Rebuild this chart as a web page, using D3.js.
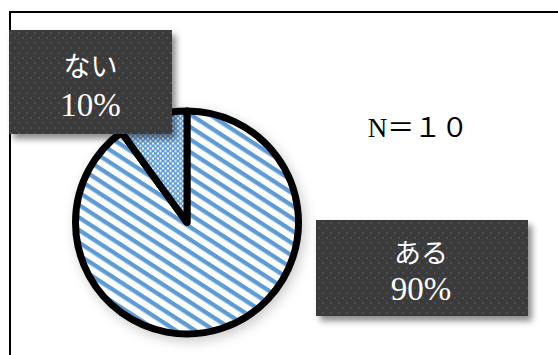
<!DOCTYPE html>
<html><head><meta charset="utf-8">
<script src="https://cdn.jsdelivr.net/npm/d3@7"></script>
<style>html,body{margin:0;padding:0;background:#fff;overflow:hidden}</style>
</head><body>
<svg id="chart" width="558" height="355"></svg>
<script>
const categories = ["ある", "ない"];
const values = [90, 10];
const percentLabels = ["90%", "10%"];
const nLabel = "N＝１０";

const svg = d3.select("#chart");
const defs = svg.append("defs");

// stripes pattern
const stripe = defs.append("pattern").attr("id", "stripes")
  .attr("patternUnits", "userSpaceOnUse").attr("width", 20).attr("height", 10.5)
  .attr("patternTransform", "rotate(33)");
stripe.append("rect").attr("width", 20).attr("height", 10.5).attr("fill", "#fff");
stripe.append("rect").attr("y", 0).attr("width", 20).attr("height", 4.3).attr("fill", "#5b9bd5");

// small check pattern
const chk = defs.append("pattern").attr("id", "checks")
  .attr("patternUnits", "userSpaceOnUse").attr("width", 5).attr("height", 5);
chk.append("rect").attr("width", 5).attr("height", 5).attr("fill", "#5b9bd5");
chk.append("rect").attr("x", 0).attr("y", 0).attr("width", 2).attr("height", 2).attr("fill", "#fff");
chk.append("rect").attr("x", 2.5).attr("y", 2.5).attr("width", 2).attr("height", 2).attr("fill", "#fff");

// dark dotted pattern
const dots = defs.append("pattern").attr("id", "dots")
  .attr("patternUnits", "userSpaceOnUse").attr("width", 8).attr("height", 10);
dots.append("rect").attr("width", 8).attr("height", 10).attr("fill", "#3a3a3a");
dots.append("rect").attr("x", 2).attr("y", 2).attr("width", 2).attr("height", 2).attr("fill", "#4d4d4d");
dots.append("rect").attr("x", 6).attr("y", 7).attr("width", 2).attr("height", 2).attr("fill", "#4d4d4d");

const sh = defs.append("filter").attr("id", "boxShadow")
  .attr("x", "-20%").attr("y", "-20%").attr("width", "150%").attr("height", "150%");
sh.append("feDropShadow").attr("dx", 4).attr("dy", 5).attr("stdDeviation", 3)
  .attr("flood-color", "#000").attr("flood-opacity", 0.45);

const psh = defs.append("filter").attr("id", "pieShadow")
  .attr("x", "-20%").attr("y", "-20%").attr("width", "140%").attr("height", "140%");
psh.append("feDropShadow").attr("dx", 3).attr("dy", 4).attr("stdDeviation", 6)
  .attr("flood-color", "#000").attr("flood-opacity", 0.2);

// frame
svg.append("rect").attr("x", 10).attr("y", 12).attr("width", 700).attr("height", 500)
  .attr("fill", "#fff").attr("stroke", "#000").attr("stroke-width", 2);

// pie
const cx = 187, cy = 222.5, r = 111.5;
const pie = d3.pie().sort(null).value(d => d);
const arcs = pie(values);
const arc = d3.arc().innerRadius(0).outerRadius(r);
const fills = ["url(#stripes)", "url(#checks)"];
const g = svg.append("g").attr("transform", `translate(${cx},${cy})`).attr("filter", "url(#pieShadow)");
g.selectAll("path").data(arcs).join("path")
  .attr("d", arc)
  .attr("fill", (d, i) => fills[i])
  .attr("stroke", "#000").attr("stroke-width", 7).attr("stroke-linejoin", "round");

// label boxes
const boxes = [
  {x: 316, y: 220, w: 212, h: 96},
  {x: 9, y: 30, w: 163, h: 104}
];
const lg = svg.append("g");
arcs.forEach((a, i) => {
  const b = boxes[i];
  const bg = lg.append("g");
  bg.append("rect").attr("x", b.x).attr("y", b.y).attr("width", b.w).attr("height", b.h)
    .attr("fill", "url(#dots)").attr("filter", "url(#boxShadow)");
  const mx = b.x + b.w / 2 + (i === 1 ? 0 : -1);
  bg.append("text").attr("x", mx).attr("y", b.y + b.h * 0.33)
    .attr("text-anchor", "middle").attr("dominant-baseline", "central")
    .attr("fill", "#fff").attr("font-family", "'Noto Sans CJK JP', sans-serif")
    .attr("font-size", 27).text(categories[i]);
  bg.append("text").attr("x", mx).attr("y", b.y + b.h * 0.72)
    .attr("text-anchor", "middle").attr("dominant-baseline", "central")
    .attr("fill", "#fff").attr("font-family", "'Liberation Serif', serif")
    .attr("font-size", 33).text(percentLabels[i]);
});

// N label
svg.append("text").attr("x", 418).attr("y", 128)
  .attr("text-anchor", "middle").attr("dominant-baseline", "central")
  .attr("fill", "#000").attr("font-family", "'Liberation Serif', 'Noto Sans CJK JP', serif")
  .attr("font-size", 27).text(nLabel);
</script>
</body></html>
